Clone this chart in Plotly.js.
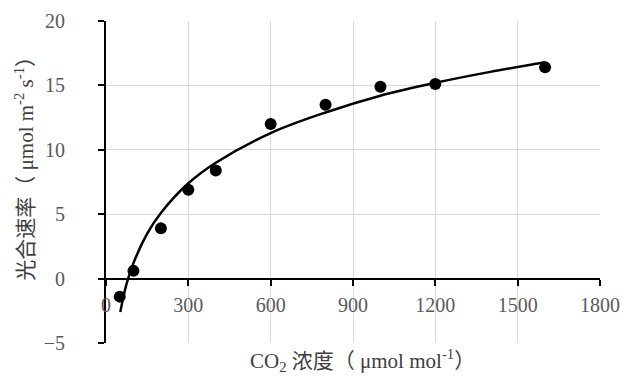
<!DOCTYPE html>
<html>
<head>
<meta charset="utf-8">
<script src="https://cdn.plot.ly/plotly-3.0.1.min.js"></script>
<style>html,body{margin:0;padding:0;background:#fff;}#chart{width:632px;height:376px;}</style>
</head>
<body>
<div id="chart"></div>
<script>
// Measured points
const co2 = [50, 100, 200, 300, 400, 600, 800, 1000, 1200, 1600];
const rate = [-1.4, 0.6, 3.9, 6.9, 8.4, 12.0, 13.5, 14.9, 15.1, 16.4];
// Trend curve
const trendX = [52, 75, 100, 150, 200, 300, 400, 600, 800, 1000, 1200, 1400, 1600];
const trendY = [-2.6, -0.4, 1.2, 3.5, 5.1, 7.4, 9.0, 11.3, 12.9, 14.2, 15.2, 16.05, 16.8];
const xTicks = [0, 300, 600, 900, 1200, 1500, 1800];
const yTicks = [-5, 0, 5, 10, 15, 20];

const serif = 'Liberation Serif, "Noto Sans CJK SC", serif';

const traces = [
  {x: trendX, y: trendY, mode: 'lines', line: {color: '#000', width: 2.5, shape: 'spline'}, hoverinfo: 'skip'},
  {x: co2, y: rate, mode: 'markers', marker: {color: '#000', size: 12}}
];

const layout = {
  width: 632, height: 376,
  margin: {l: 106, r: 32, t: 21, b: 33},
  paper_bgcolor: '#fff', plot_bgcolor: '#fff',
  showlegend: false,
  font: {family: serif, color: '#595959', size: 20},
  xaxis: {
    range: [0, 1800], tickvals: xTicks, ticktext: xTicks.map(String),
    anchor: 'free', position: 0.2,
    showline: true, linecolor: '#000', linewidth: 2,
    ticks: 'outside', ticklen: 6, tickwidth: 2, tickcolor: '#000',
    ticklabelstandoff: 2,
    showgrid: true, gridcolor: '#d9d9d9', gridwidth: 1,
    zeroline: false, tickfont: {family: serif, size: 20, color: '#595959'}
  },
  yaxis: {
    range: [-5, 20], tickvals: yTicks, ticktext: yTicks.map(v => v < 0 ? '\u2212' + Math.abs(v) : String(v)),
    showline: true, linecolor: '#000', linewidth: 2,
    ticks: 'outside', ticklen: 6, tickwidth: 2, tickcolor: '#000',
    ticklabelstandoff: 29,
    showgrid: true, gridcolor: '#d9d9d9', gridwidth: 1,
    zeroline: false, tickfont: {family: serif, size: 20, color: '#595959'}
  },
  annotations: [
    {xref: 'paper', yref: 'paper', x: -0.164, y: 0.56, text: '光合速率（ μmol m<sup>-2</sup> s<sup>-1</sup>）',
     textangle: -90, showarrow: false, xanchor: 'center', yanchor: 'middle',
     font: {family: serif, size: 21, color: '#404040'}},
    {xref: 'paper', yref: 'paper', x: 0.52, y: -0.053, text: 'CO<sub>2</sub> 浓度（ μmol mol<sup>-1</sup>）',
     showarrow: false, xanchor: 'center', yanchor: 'middle',
     font: {family: serif, size: 21, color: '#404040'}}
  ]
};

Plotly.newPlot('chart', traces, layout, {displayModeBar: false, staticPlot: true});
</script>
</body>
</html>
